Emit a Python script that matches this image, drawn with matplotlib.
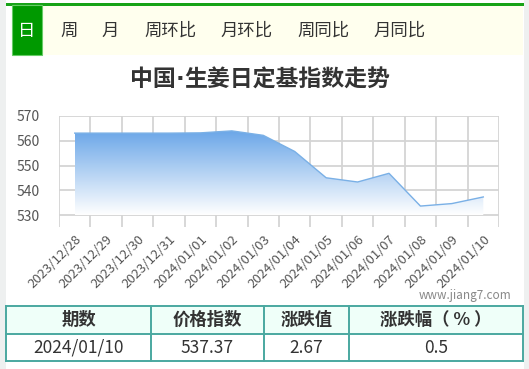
import numpy as np
import matplotlib
matplotlib.use("Agg")
import matplotlib.pyplot as plt
from matplotlib.patches import Rectangle
from matplotlib.colors import LinearSegmentedColormap

plt.rcParams['font.family'] = ['Noto Sans CJK SC', 'DejaVu Sans']

# data
dates = ['2023/12/28', '2023/12/29', '2023/12/30', '2023/12/31', '2024/01/01',
         '2024/01/02', '2024/01/03', '2024/01/04', '2024/01/05', '2024/01/06',
         '2024/01/07', '2024/01/08', '2024/01/09', '2024/01/10']
index_vals = [563.1, 563.1, 563.1, 563.1, 563.2, 564.0, 562.2,
              555.7, 545.1, 543.4, 546.9, 533.7, 534.70, 537.37]
tabs = ['周', '月', '周环比', '月环比', '周同比', '月同比']
tab_x = [69, 110, 170, 247, 323, 400]
yticks = [530, 540, 550, 560, 570]
title_parts = ['中国', '·', '生姜日定基指数走势']
table_head = ['期数', '价格指数', '涨跌值', '涨跌幅（ % ）']
table_row = ['2024/01/10', '537.37', '2.67', '0.5']
col_edges = [6, 151, 264, 349, 523]

W, H = 529, 369
fig = plt.figure(figsize=(W / 100, H / 100), dpi=100)

# page overlay in pixel coordinates
bg = fig.add_axes([0, 0, 1, 1], zorder=0)
bg.set_xlim(0, W)
bg.set_ylim(H, 0)
bg.axis('off')
bg.add_patch(Rectangle((0, 0), 6, H, color='#eef0f0', lw=0))
bg.add_patch(Rectangle((524, 0), 5, H, color='#eef0f0', lw=0))
bg.add_patch(Rectangle((12, 5), 511, 50, color='#ffffee', lw=0))
bg.add_patch(Rectangle((6, 3), 518, 2.5, color='#17a317', lw=0))
bg.add_patch(Rectangle((12, 5), 30, 50, facecolor='#009900', edgecolor='#66cc66', lw=0.8))
bg.text(27, 31, '日', color='white', fontsize=12.5, ha='center', va='center')
for t, x in zip(tabs, tab_x):
    bg.text(x, 31, t, color='#333333', fontsize=12.5, ha='center', va='center')

# title: narrow middle dot, so draw in pieces
renderer = fig.canvas.get_renderer()
pieces = []
for p in title_parts:
    fam = ['DejaVu Sans'] if p == '·' else ['Noto Sans CJK SC', 'DejaVu Sans']
    pieces.append(fig.text(0, 1 - 80 / H, p, fontsize=16.5, fontweight='bold', family=fam,
                           color='#333333', ha='left', va='center'))
widths = [t.get_window_extent(renderer).width for t in pieces]
xpos = 260 - sum(widths) / 2
for t, w in zip(pieces, widths):
    t.set_x(xpos / W)
    xpos += w

bg.text(511, 296, 'www.jiang7.com', fontsize=8.5, color='#888888', ha='right', va='center')

# table
bg.add_patch(Rectangle((6, 306), 517, 28, facecolor='#effff9', edgecolor='none'))
for y in [306, 334, 361]:
    bg.plot([6, 523], [y, y], color='#4aa8a0', lw=1.4)
for x in col_edges:
    bg.plot([x, x], [306, 361], color='#4aa8a0', lw=1.4)
for i in range(4):
    cx = (col_edges[i] + col_edges[i + 1]) / 2
    bg.text(cx, 320, table_head[i], fontsize=12.5, fontweight='bold', color='#333333',
            ha='center', va='center')
    bg.text(cx, 348, table_row[i], fontsize=12.5, color='#333333', ha='center', va='center')

# chart
ax = fig.add_axes([59 / W, 1 - 227 / H, 440 / W, 111 / H], zorder=2)
ax.patch.set_alpha(0)
x = np.arange(len(dates)) + 0.5
ax.set_xlim(0, len(dates))
ax.set_ylim(525.26, 570)

for v in yticks:
    ax.axhline(v, color='#d4d4d4', lw=1.3, zorder=1)
for i in range(len(dates) + 1):
    ax.axvline(i, color='#d4d4d4', lw=1.3, zorder=1)

poly = ax.fill_between(x, index_vals, 530, color='none', lw=0)
cmap = LinearSegmentedColormap.from_list('g', ['#ffffff', '#6aa6e8'])
grad = np.linspace(0, 1, 256).reshape(-1, 1)
im = ax.imshow(grad, cmap=cmap, aspect='auto', origin='lower',
               extent=[x[0], x[-1], 530, max(index_vals)], zorder=2)
im.set_clip_path(poly.get_paths()[0], transform=ax.transData)
ax.plot(x, index_vals, color='#7ab0e6', lw=1, zorder=3)

for s in ax.spines.values():
    s.set_visible(False)
ax.set_yticks(yticks)
ax.set_yticklabels([str(v) for v in yticks], fontsize=10, color='#555555')
ax.set_xticks(x)
ax.set_xticklabels(dates, rotation=45, ha='right', va='top', rotation_mode='anchor',
                   fontsize=9.5, color='#555555')
ax.tick_params(axis='y', length=0, pad=14)
ax.tick_params(axis='x', length=0, pad=4)

fig.savefig('out.png', dpi=100)
